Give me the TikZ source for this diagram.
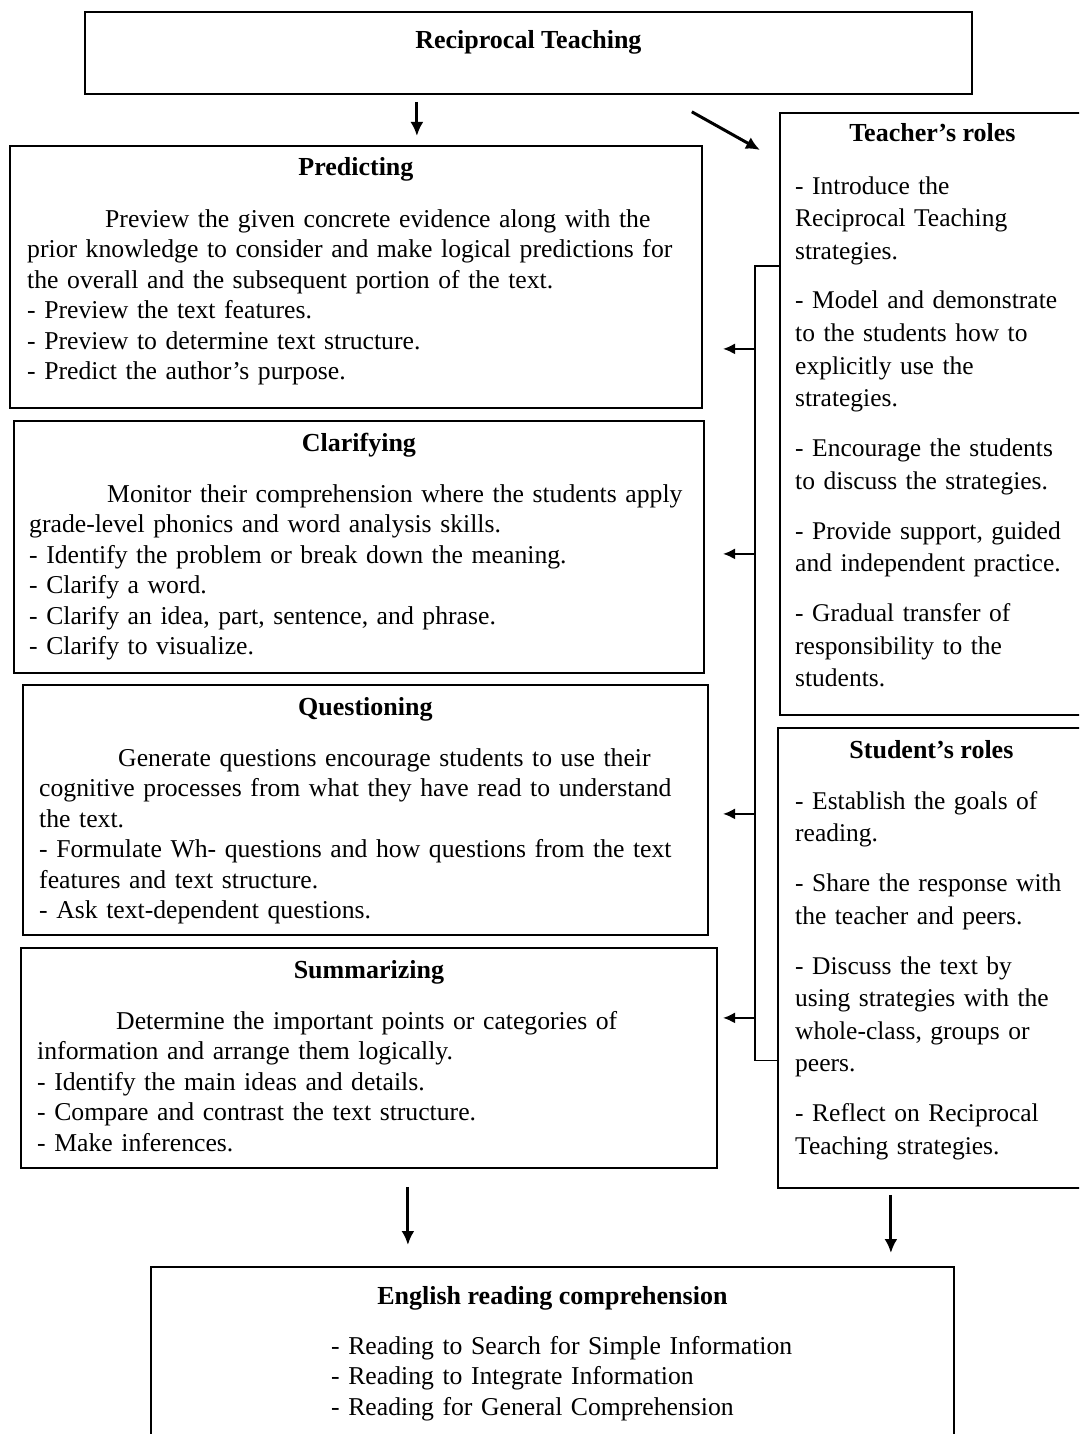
\documentclass[tikz,border=0pt]{standalone}
\usepackage{fontspec}
\setmainfont{Liberation Serif}
\usetikzlibrary{arrows.meta}

\begin{document}
\begin{tikzpicture}[x=1pt,y=-1pt,
  box/.style={draw, line width=1.8pt, anchor=north west, inner sep=0pt},
  head/.style={font=\fontsize{26}{30}\selectfont\bfseries, anchor=base, inner sep=0pt},
  body/.style={font=\fontsize{25.7}{30.5}\selectfont, anchor=base west, inner sep=0pt, align=left, text width=680pt},
  rolebody/.style={font=\fontsize{25.5}{32.5}\selectfont, anchor=base west, inner sep=0pt, align=left, text width=300pt},
  arr/.style={line width=3pt, -{Latex[length=14pt,width=13pt]}},
  arrl/.style={line width=2pt, -{Latex[length=12pt,width=11pt]}},
  link/.style={line width=1.3pt}]

\useasboundingbox (0,0) rectangle (1079,1434);
\clip (0,0) rectangle (1079,1434);

% boxes
\node[box, minimum width=887pt, minimum height=82pt] (top) at (84,11) {};
\node[box, minimum width=692pt, minimum height=262pt] (pred) at (9,145) {};
\node[box, minimum width=690pt, minimum height=252pt] (clar) at (13,420) {};
\node[box, minimum width=685pt, minimum height=250pt] (ques) at (22,684) {};
\node[box, minimum width=696pt, minimum height=220pt] (summ) at (20,947) {};
\node[box, minimum width=305pt, minimum height=602pt] (teach) at (779,112) {};
\node[box, minimum width=307pt, minimum height=460pt] (stud) at (777,727) {};
\node[box, minimum width=803pt, minimum height=190pt] (eng) at (150,1266) {};

% titles
\node[head] (top-t) at ([yshift=-38pt]top.north) {Reciprocal Teaching};
\node[head] (pred-t) at ([yshift=-31pt]pred.north) {Predicting};
\node[head] (clar-t) at ([yshift=-31pt]clar.north) {Clarifying};
\node[head] (ques-t) at ([yshift=-31pt]ques.north) {Questioning};
\node[head] (summ-t) at ([yshift=-31pt]summ.north) {Summarizing};
\node[head] (teach-t) at ([yshift=-30pt]teach.north) {Teacher's roles};
\node[head] (stud-t) at ([yshift=-31pt]stud.north) {Student's roles};
\node[head] (eng-t) at ([yshift=-38pt]eng.north) {English reading comprehension};

% strategy texts
\node[body] (pred-b) at ([xshift=18pt,yshift=-82pt]pred.north west) {%
\hspace*{78pt}Preview the given concrete evidence along with the\\
prior knowledge to consider and make logical predictions for\\
the overall and the subsequent portion of the text.\\
- Preview the text features.\\
- Preview to determine text structure.\\
- Predict the author's purpose.};

\node[body] (clar-b) at ([xshift=16pt,yshift=-82pt]clar.north west) {%
\hspace*{78pt}Monitor their comprehension where the students apply\\
grade-level phonics and word analysis skills.\\
- Identify the problem or break down the meaning.\\
- Clarify a word.\\
- Clarify an idea, part, sentence, and phrase.\\
- Clarify to visualize.};

\node[body] (ques-b) at ([xshift=17pt,yshift=-82pt]ques.north west) {%
\hspace*{79pt}Generate questions encourage students to use their\\
cognitive processes from what they have read to understand\\
the text.\\
- Formulate Wh- questions and how questions from the text\\
features and text structure.\\
- Ask text-dependent questions.};

\node[body] (summ-b) at ([xshift=17pt,yshift=-82pt]summ.north west) {%
\hspace*{79pt}Determine the important points or categories of\\
information and arrange them logically.\\
- Identify the main ideas and details.\\
- Compare and contrast the text structure.\\
- Make inferences.};

% roles
\node[rolebody] (teach-b) at ([xshift=16pt,yshift=-82pt]teach.north west) {%
- Introduce the\\ Reciprocal Teaching\\ strategies.\\[17.5pt]
- Model and demonstrate\\ to the students how to\\ explicitly use the\\ strategies.\\[17.5pt]
- Encourage the students\\ to discuss the strategies.\\[17.5pt]
- Provide support, guided\\ and independent practice.\\[17.5pt]
- Gradual transfer of\\ responsibility to the\\ students.};

\node[rolebody] (stud-b) at ([xshift=18pt,yshift=-82pt]stud.north west) {%
- Establish the goals of\\ reading.\\[17.5pt]
- Share the response with\\ the teacher and peers.\\[17.5pt]
- Discuss the text by\\ using strategies with the\\ whole-class, groups or\\ peers.\\[17.5pt]
- Reflect on Reciprocal\\ Teaching strategies.};

\node[body] (eng-b) at ([xshift=181pt,yshift=-88pt]eng.north west) {%
- Reading to Search for Simple Information\\
- Reading to Integrate Information\\
- Reading for General Comprehension};

% arrows from the top
\draw[arr] ([xshift=-111.5pt,yshift=-7pt]top.south) -- ([xshift=61pt,yshift=9pt]pred.north);
\draw[arr] ([xshift=-281pt,yshift=-17pt]top.south east) -- ([xshift=-19pt,yshift=-38pt]teach.north west);

% bus from the roles to the strategies
\coordinate (bus) at (755,0);
\coordinate (tipx) at (723,0);
\coordinate (teach-out) at ([yshift=-154pt]teach.north west);
\coordinate (stud-out) at ([yshift=128pt]stud.south west);
\draw[link] (teach-out) -| (bus |- stud-out) -- (stud-out);
\foreach \n/\dy in {pred/72, clar/7, ques/4, summ/-40}{
  \path (\n.east) ++(0,\dy) coordinate (\n-in);
  \draw[arrl] (bus |- \n-in) -- (tipx |- \n-in);
}

% arrows to the outcome
\draw[arr] ([xshift=39pt,yshift=-18pt]summ.south) -- ([xshift=-144.5pt,yshift=21pt]eng.north);
\draw[arr] ([xshift=-40.5pt,yshift=-6pt]stud.south) -- ([xshift=338.5pt,yshift=13pt]eng.north);

\end{tikzpicture}
\end{document}
